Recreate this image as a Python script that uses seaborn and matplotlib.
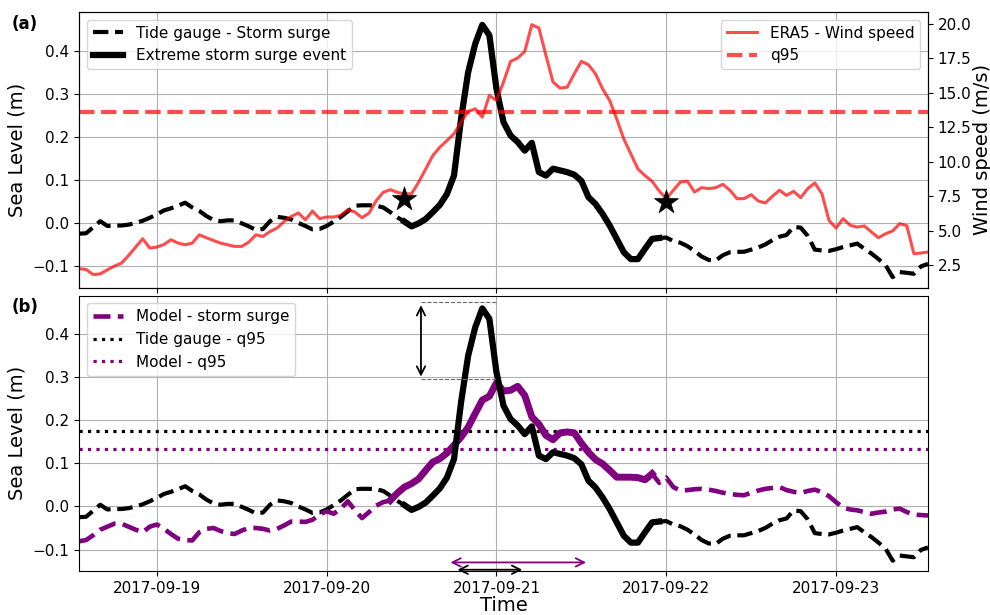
import numpy as np
import pandas as pd
import matplotlib
matplotlib.use("Agg")
import matplotlib.pyplot as plt
import matplotlib.dates as mdates
from matplotlib.ticker import MultipleLocator
from matplotlib.lines import Line2D
import seaborn as sns

# ---------------- data (hourly, from 2017-09-18 13:00) ----------------
start_time = "2017-09-18 13:00"
n_hours = 121

tide_surge = [
    -0.025, -0.024, -0.010, 0.004, -0.007, -0.006, -0.006, -0.004, 0.000, 0.005,
    0.012, 0.020, 0.029, 0.034, 0.040, 0.047, 0.036, 0.028, 0.016, 0.007,
    0.004, 0.006, 0.006, -0.001, -0.008, -0.016, -0.014, 0.004, 0.014, 0.012,
    0.008, 0.000, -0.007, -0.015, -0.014, -0.007, 0.003, 0.014, 0.027, 0.040,
    0.041, 0.041, 0.040, 0.036, 0.025, 0.013, 0.003, -0.008, -0.001, 0.009,
    0.025, 0.042, 0.067, 0.110, 0.242, 0.350, 0.416, 0.460, 0.436, 0.312,
    0.234, 0.203, 0.188, 0.168, 0.186, 0.118, 0.110, 0.126, 0.122, 0.118,
    0.112, 0.098, 0.060, 0.044, 0.021, -0.006, -0.037, -0.068, -0.084, -0.084,
    -0.060, -0.037, -0.035, -0.034, -0.042, -0.046, -0.054, -0.065, -0.078, -0.086,
    -0.087, -0.075, -0.068, -0.067, -0.067, -0.062, -0.057, -0.050, -0.040, -0.032,
    -0.028, -0.009, -0.011, -0.030, -0.062, -0.064, -0.065, -0.061, -0.056, -0.052,
    -0.048, -0.060, -0.071, -0.084, -0.098, -0.126, -0.114, -0.116, -0.118, -0.101,
    -0.095,
]

model_surge = [
    -0.081, -0.078, -0.067, -0.054, -0.047, -0.040, -0.040, -0.047, -0.054, -0.060,
    -0.047, -0.042, -0.052, -0.064, -0.075, -0.078, -0.079, -0.060, -0.052, -0.050,
    -0.057, -0.062, -0.064, -0.056, -0.050, -0.050, -0.052, -0.056, -0.052, -0.044,
    -0.035, -0.035, -0.036, -0.031, -0.019, -0.011, -0.017, -0.005, 0.012, -0.009,
    -0.027, -0.013, 0.002, 0.010, 0.014, 0.031, 0.045, 0.053, 0.064, 0.084,
    0.103, 0.111, 0.124, 0.142, 0.161, 0.184, 0.216, 0.247, 0.256, 0.287,
    0.268, 0.270, 0.279, 0.258, 0.208, 0.191, 0.165, 0.155, 0.171, 0.173,
    0.171, 0.147, 0.126, 0.109, 0.099, 0.084, 0.068, 0.068, 0.068, 0.067,
    0.062, 0.076, 0.055, 0.067, 0.045, 0.037, 0.038, 0.040, 0.041, 0.039,
    0.036, 0.032, 0.029, 0.027, 0.026, 0.032, 0.037, 0.041, 0.043, 0.045,
    0.038, 0.034, 0.031, 0.036, 0.039, 0.033, 0.024, 0.010, -0.003, -0.007,
    -0.009, -0.013, -0.017, -0.014, -0.012, -0.007, -0.005, -0.013, -0.019, -0.020,
    -0.021,
]

wind_speed = [
    2.26, 2.21, 1.84, 1.89, 2.18, 2.45, 2.67, 3.22, 3.83, 4.43,
    3.76, 3.83, 4.02, 4.36, 4.12, 4.00, 4.12, 4.72, 4.51, 4.31,
    4.12, 4.00, 3.88, 3.88, 4.19, 4.72, 4.60, 4.96, 5.21, 5.69,
    6.05, 6.30, 5.81, 6.44, 5.89, 6.01, 6.01, 6.13, 6.55, 6.37,
    5.96, 6.30, 7.19, 7.80, 7.99, 7.80, 7.68, 7.70, 8.53, 9.49,
    10.46, 11.07, 11.55, 12.04, 12.88, 13.66, 13.85, 13.25, 14.82, 14.46,
    15.79, 17.29, 17.53, 18.01, 19.95, 19.71, 17.72, 15.79, 15.35, 15.42,
    16.39, 17.29, 17.05, 16.39, 15.30, 14.46, 13.12, 11.67, 10.58, 9.49,
    9.01, 8.60, 7.90, 7.34, 7.95, 8.55, 8.60, 7.82, 8.14, 8.07,
    8.14, 8.38, 7.95, 7.34, 7.34, 7.63, 7.17, 7.03, 7.51, 7.95,
    7.58, 7.87, 7.41, 8.07, 8.48, 7.70, 5.77, 5.21, 5.89, 5.41,
    5.28, 5.36, 4.92, 4.51, 4.80, 5.00, 5.53, 5.38, 3.35, 3.40,
    3.47,
]

tide_event_hours = [46, 82]     # extreme event window (tide gauge)
model_event_hours = [44, 81]    # extreme event window (model)
star_hours = [46, 83]
star_wind = [7.34, 7.10]
wind_q95 = 13.6
tide_q95 = 0.175
model_q95 = 0.133
guide_levels = [0.474, 0.295]
guide_start = "2017-09-20 13:20"
span_levels = {"model": -0.13, "tide": -0.147}

# ---------------- build frames ----------------
times = pd.date_range(start_time, periods=n_hours, freq="h")
df = pd.DataFrame({"time": times, "tide": tide_surge,
                   "model": model_surge, "wind": wind_speed})
tide_evt = df.iloc[tide_event_hours[0]:tide_event_hours[1] + 1]
model_evt = df.iloc[model_event_hours[0]:model_event_hours[1] + 1]
stars = pd.DataFrame({"time": times[star_hours], "wind": star_wind})


def exceed_span(t, v, thr):
    t = np.asarray(t, float)
    v = np.asarray(v, float)
    i0 = int(np.argmax(v > thr))
    a = t[i0 - 1] + (thr - v[i0 - 1]) / (v[i0] - v[i0 - 1]) * (t[i0] - t[i0 - 1])
    j = i0
    while j < len(v) and v[j] > thr:
        j += 1
    b = t[j - 1] + (thr - v[j - 1]) / (v[j] - v[j - 1]) * (t[j] - t[j - 1])
    return a, b


tnum = mdates.date2num(times)

plt.rcParams["font.family"] = ["DejaVu Sans"]
fig, (ax1, ax3) = plt.subplots(2, 1, sharex=True, figsize=(9.9, 6.15), dpi=100)
fig.subplots_adjust(left=0.0798, right=0.9374, bottom=0.0715, top=0.9805,
                    hspace=0.029)

red = (1.0, 0.0, 0.0, 0.7)

# ---------------- panel (a) ----------------
ax1.grid(True, color="#b0b0b0", lw=0.8)
ax1.set_axisbelow(True)
sns.lineplot(data=df, x="time", y="tide", ax=ax1, color="black",
             linestyle="--", lw=3)
sns.lineplot(data=tide_evt, x="time", y="tide", ax=ax1, color="black",
             lw=4.5)
ax1.set_ylim(-0.15, 0.49)
ax1.set_ylabel("Sea Level (m)", fontsize=14)
ax1.set_xlabel("")
ax1.tick_params(labelsize=11)
h1 = [Line2D([], [], color="black", ls="--", lw=3),
      Line2D([], [], color="black", lw=4.5)]
ax1.legend(h1, ["Tide gauge - Storm surge", "Extreme storm surge event"],
           loc="upper left", fontsize=11)

ax2 = ax1.twinx()
sns.lineplot(data=df, x="time", y="wind", ax=ax2, color=red, lw=2.2)
ax2.axhline(wind_q95, color=red, ls="--", lw=3)
sns.scatterplot(data=stars, x="time", y="wind", ax=ax2, color="black",
                marker="*", s=330, edgecolor="black", linewidth=0.5, zorder=5)
ax2.set_ylim(0.9, 20.87)
ax2.yaxis.set_major_locator(MultipleLocator(2.5))
ax2.set_ylabel("Wind speed (m/s)", fontsize=14, labelpad=1)
ax2.tick_params(labelsize=11)
h2 = [Line2D([], [], color=red, lw=2.2), Line2D([], [], color=red, ls="--", lw=3)]
ax2.legend(h2, ["ERA5 - Wind speed", "q95"], loc="upper right", fontsize=11)

# ---------------- panel (b) ----------------
ax3.grid(True, color="#b0b0b0", lw=0.8)
ax3.set_axisbelow(True)
ax3.axhline(tide_q95, color="black", ls=":", lw=2.3, zorder=1.5)
ax3.axhline(model_q95, color="purple", ls=":", lw=2.3, zorder=1.5)
sns.lineplot(data=df, x="time", y="tide", ax=ax3, color="black",
             linestyle="--", lw=3)
sns.lineplot(data=df, x="time", y="model", ax=ax3, color="purple",
             linestyle="--", lw=3.3)
sns.lineplot(data=model_evt, x="time", y="model", ax=ax3, color="purple",
             lw=5)
sns.lineplot(data=tide_evt, x="time", y="tide", ax=ax3, color="black",
             lw=4.5)
ax3.set_ylim(-0.15, 0.49)
ax3.set_ylabel("Sea Level (m)", fontsize=14)
ax3.set_xlabel("Time", fontsize=14, labelpad=0)
ax3.tick_params(labelsize=11)
h3 = [Line2D([], [], color="purple", ls="--", lw=3.3),
      Line2D([], [], color="black", ls=":", lw=2.3),
      Line2D([], [], color="purple", ls=":", lw=2.3)]
ax3.legend(h3, ["Model - storm surge", "Tide gauge - q95", "Model - q95"],
           loc="upper left", fontsize=11)

# guides between peaks
g0 = mdates.date2num(pd.Timestamp(guide_start))
g1 = tnum[int(np.argmax(model_surge))]
ax3.hlines(guide_levels, g0, g1, colors="dimgray", linestyles="--", lw=0.8)
ax3.annotate("", xy=(g0, guide_levels[1]), xytext=(g0, guide_levels[0]),
             arrowprops=dict(arrowstyle="<->", color="black", lw=1.3,
                             mutation_scale=15))
# durations above q95
ma, mb = exceed_span(tnum, model_surge, model_q95)
ta, tb = exceed_span(tnum, tide_surge, tide_q95)
ax3.annotate("", xy=(mb, span_levels["model"]), xytext=(ma, span_levels["model"]),
             arrowprops=dict(arrowstyle="<->", color="purple", lw=1.3,
                             mutation_scale=15, shrinkA=0, shrinkB=0))
ax3.annotate("", xy=(tb, span_levels["tide"]), xytext=(ta, span_levels["tide"]),
             arrowprops=dict(arrowstyle="<->", color="black", lw=1.3,
                             mutation_scale=15, shrinkA=0, shrinkB=0),
             annotation_clip=False)

ax3.set_xlim(times[0], times[-1])
ax3.xaxis.set_major_locator(mdates.DayLocator())
ax3.xaxis.set_major_formatter(mdates.DateFormatter("%Y-%m-%d"))

fig.text(0.012, 0.961, "(a)", fontsize=12, fontweight="bold",
         ha="left", va="center")
fig.text(0.012, 0.5013, "(b)", fontsize=12, fontweight="bold",
         ha="left", va="center")

fig.savefig("out.png", dpi=100)
